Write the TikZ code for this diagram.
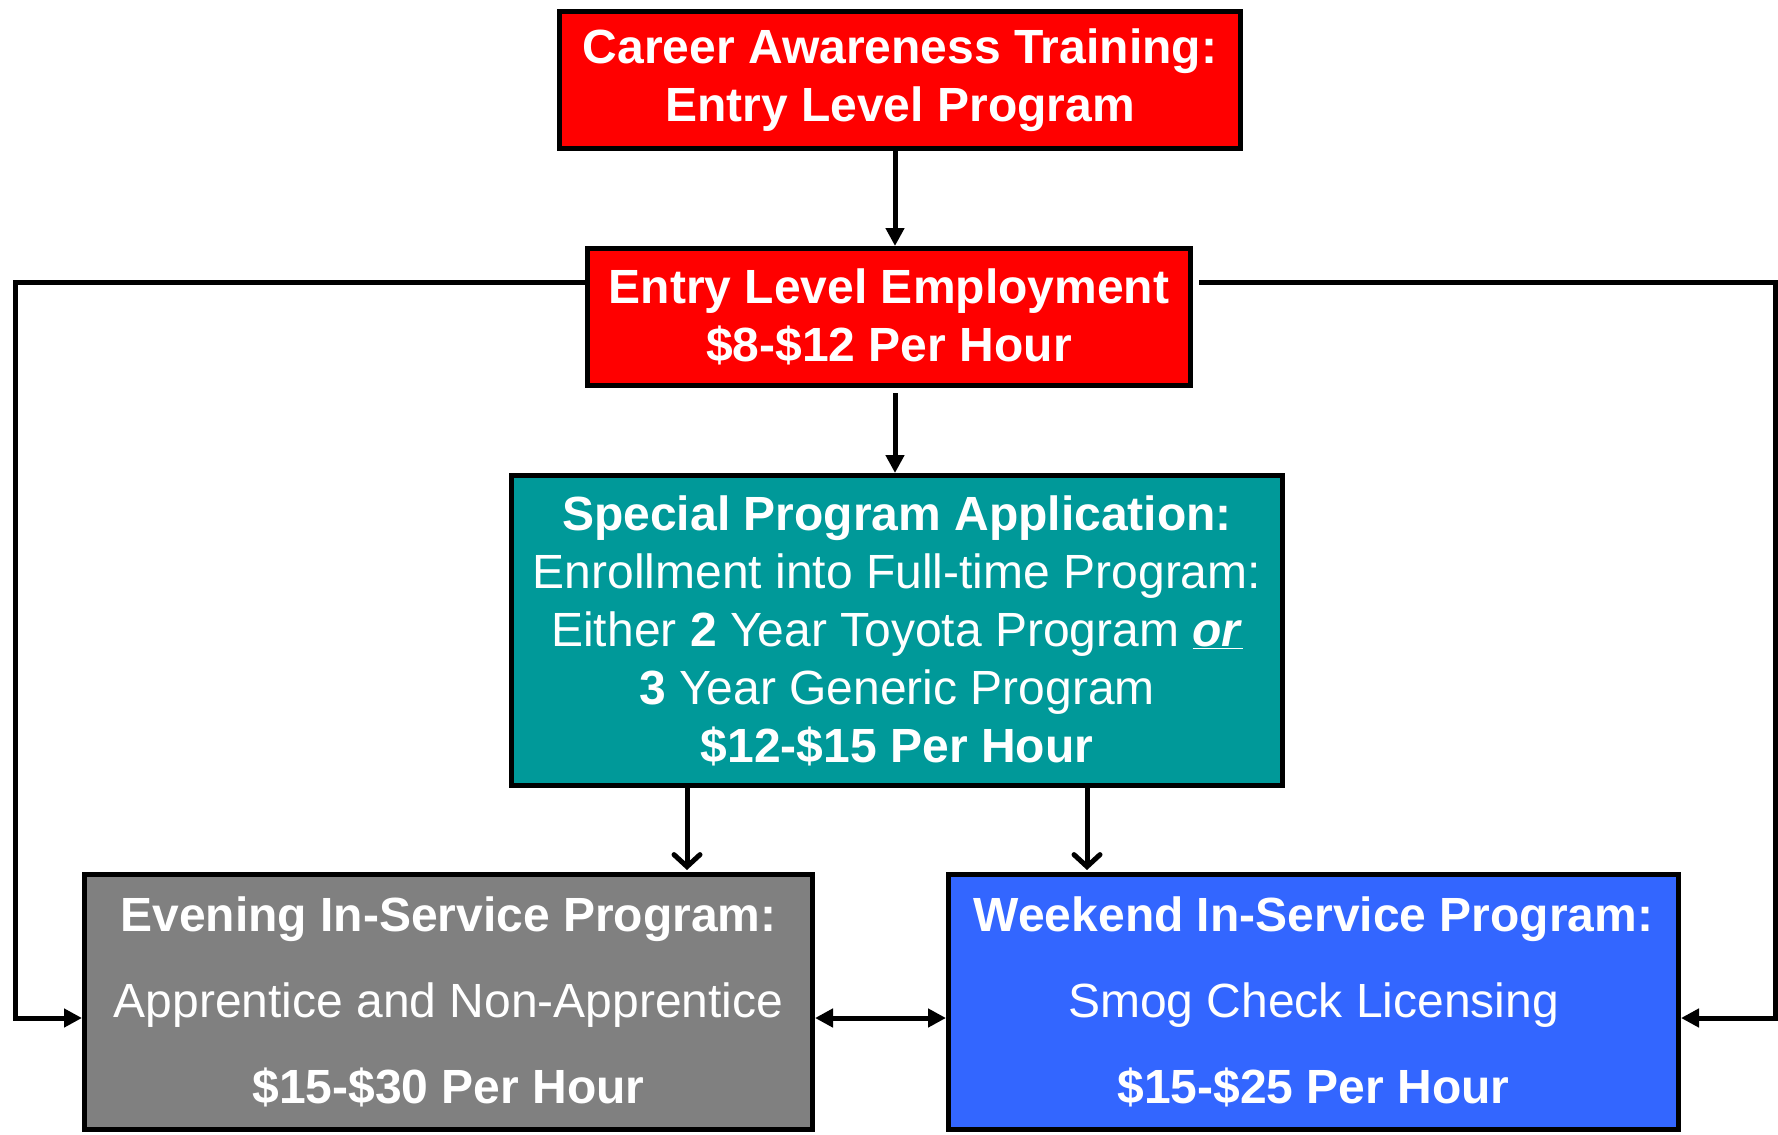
\documentclass[tikz,border=0pt]{standalone}
\usepackage{fontspec}
\setmainfont{Liberation Sans}
\usetikzlibrary{arrows.meta,calc}
\definecolor{boxred}{RGB}{255,0,0}
\definecolor{boxteal}{RGB}{0,153,153}
\definecolor{boxgray}{RGB}{128,128,128}
\definecolor{boxblue}{RGB}{51,102,255}
\tikzset{
  box/.style={draw=black, line width=5pt, text=white, align=center, inner sep=0pt,
    font=\fontsize{48}{58}\selectfont},
  conn/.style={line width=5pt, draw=black},
  tri/.style={conn, -{Triangle[length=18pt,width=18pt]}},
  dbl/.style={conn, {Triangle[length=18pt,width=18pt]}-{Triangle[length=18pt,width=18pt]}},
  barb/.style={conn, -{Straight Barb[length=12pt,width=26pt,line cap=round,line width=5pt]}},
}
\begin{document}
\begin{tikzpicture}[x=1pt,y=1pt]
\fill[white] (0,0) rectangle (1778,-1135);
\useasboundingbox (0,0) rectangle (1778,-1135);

\node[box, fill=boxred, minimum width=681, minimum height=137] (b1) at (900,-80)
  {\bfseries Career Awareness Training:\\ \bfseries Entry Level Program};
\node[box, fill=boxred, minimum width=603, minimum height=137] (b2) at (889,-317)
  {\bfseries Entry Level Employment\\ \bfseries \$8-\$12 Per Hour};
\node[box, fill=boxteal, minimum width=771, minimum height=310] (b3) at (897,-630.5)
  {\bfseries Special Program Application:\\
   Enrollment into Full-time Program:\\
   Either \textbf{2} Year Toyota Program \underline{\textbf{\textit{or}}}\\
   \textbf{3} Year Generic Program\\
   \bfseries \$12-\$15 Per Hour};
\node[box, fill=boxgray, minimum width=728, minimum height=255,
  font=\fontsize{48}{86}\selectfont] (b4) at (448.5,-1002)
  {\bfseries Evening In-Service Program:\\
   Apprentice and Non-Apprentice\\
   \bfseries \$15-\$30 Per Hour};
\node[box, fill=boxblue, minimum width=730, minimum height=255,
  font=\fontsize{48}{86}\selectfont] (b5) at (1313.5,-1002)
  {\bfseries Weekend In-Service Program:\\
   Smog Check Licensing\\
   \bfseries \$15-\$25 Per Hour};

\coordinate (xa) at (895,0);
\coordinate (xl) at (687,0);
\coordinate (xr) at (1087,0);
\coordinate (ytop) at (0,-282);
\coordinate (ybot) at (0,-1018);
\coordinate (lft) at (15,0);
\coordinate (rgt) at (1775,0);

\draw[tri] (b1.south -| xa) -- (b2.north -| xa);
\draw[tri] ([yshift=-5pt]b2.south -| xa) -- (b3.north -| xa);
\draw[barb] (b3.south -| xl) -- ([yshift=2pt]b4.north -| xl);
\draw[barb] (b3.south -| xr) -- ([yshift=2pt]b5.north -| xr);
\draw[dbl] (b4.east |- ybot) -- (b5.west |- ybot);
\draw[tri] (b2.west |- ytop) -- (lft |- ytop) -- (lft |- ybot) -- (b4.west |- ybot);
\draw[tri] ([xshift=6pt]b2.east |- ytop) -- (rgt |- ytop) -- (rgt |- ybot) -- (b5.east |- ybot);
\end{tikzpicture}
\end{document}
